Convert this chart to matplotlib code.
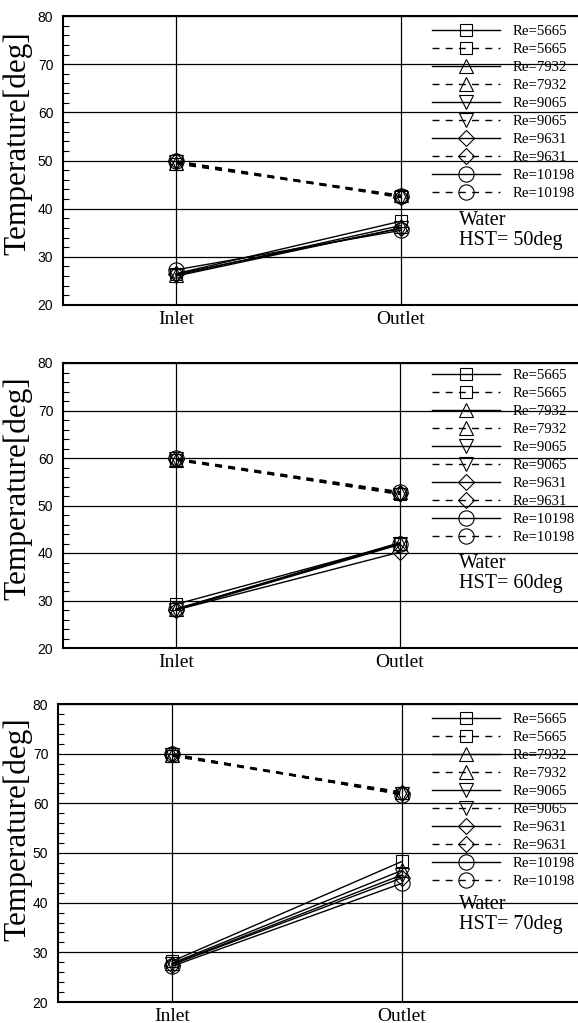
import matplotlib
matplotlib.use("Agg")
import matplotlib.pyplot as plt
from matplotlib.ticker import MultipleLocator

W, H = 578, 1023

re_vals = [5665, 7932, 9065, 9631, 10198]
positions = ["Inlet", "Outlet"]
hst_list = [50, 60, 70]

# solid lines (lower pair) and dashed lines (upper pair), inlet / outlet
solid_in_50 = [26.5, 26.2, 26.0, 26.4, 27.3]
solid_out_50 = [37.4, 36.5, 36.0, 35.9, 35.5]
dash_in_50 = [49.3, 49.5, 49.6, 49.8, 49.9]
dash_out_50 = [42.6, 42.8, 42.3, 42.5, 42.6]

solid_in_60 = [29.2, 28.2, 28.0, 28.0, 28.2]
solid_out_60 = [42.0, 42.2, 41.8, 40.2, 42.0]
dash_in_60 = [59.5, 59.6, 59.7, 59.8, 59.9]
dash_out_60 = [52.5, 52.8, 52.3, 52.6, 52.9]

solid_in_70 = [28.2, 27.8, 27.6, 27.5, 27.2]
solid_out_70 = [48.3, 46.5, 45.6, 45.0, 43.9]
dash_in_70 = [69.5, 69.7, 69.8, 69.9, 70.0]
dash_out_70 = [62.0, 62.3, 61.8, 62.1, 61.7]

data = [
    (solid_in_50, solid_out_50, dash_in_50, dash_out_50),
    (solid_in_60, solid_out_60, dash_in_60, dash_out_60),
    (solid_in_70, solid_out_70, dash_in_70, dash_out_70),
]

markers = ['s', '^', 'v', 'D', 'o']
msizes = [8, 9.5, 9.5, 8, 11]

# layout in pixels: left spine, top, bottom, inlet x, outlet x
layout = [
    (63, 16, 305, 176, 401),
    (63, 363, 648, 176, 400),
    (58, 704, 1002, 172, 402),
]
leg_top = [25, 369, 713]
leg_x = 432
water_top = [211, 554, 895]
ylab_y = [0.56, 0.56, 0.58]

serif = 'Liberation Serif'
sans = 'Liberation Sans'

fig = plt.figure(figsize=(W / 100, H / 100), dpi=100)

for k in range(3):
    left, top, bot, xin, xout = layout[k]
    right = 650
    ax = fig.add_axes([left / W, 1 - bot / H, (right - left) / W, (bot - top) / H])
    unit = xout - xin
    ax.set_xlim(-(xin - left) / unit, (right - xin) / unit)
    ax.set_ylim(20, 80)

    s_in, s_out, d_in, d_out = data[k]
    for i, re in enumerate(re_vals):
        ax.plot([0, 1], [s_in[i], s_out[i]], color='black', lw=1.0,
                marker=markers[i], ms=msizes[i], mfc='none', mec='black', mew=0.8,
                label='Re=%d' % re)
        ax.plot([0, 1], [d_in[i], d_out[i]], color='black', lw=1.0, dashes=(5, 4.5),
                marker=markers[i], ms=msizes[i], mfc='none', mec='black', mew=0.8,
                label='Re=%d' % re)

    ax.set_xticks([0, 1])
    ax.set_xticklabels(positions, family=serif, fontsize=14)
    ax.tick_params(axis='x', length=0, pad=4)
    ax.yaxis.set_major_locator(MultipleLocator(10))
    ax.yaxis.set_minor_locator(MultipleLocator(2))
    ax.tick_params(axis='y', which='major', length=0, pad=7, labelsize=10)
    ax.tick_params(axis='y', which='minor', direction='in', length=4, width=0.8)
    for lab in ax.get_yticklabels():
        lab.set_family(sans)
    ax.grid(True, which='major', color='black', lw=0.9)
    for sp in ['left', 'top', 'bottom']:
        ax.spines[sp].set_linewidth(1.5)
    ax.spines['right'].set_visible(False)

    ax.set_ylabel('Temperature[deg]', family=serif, fontsize=22.5)
    ax.yaxis.set_label_coords((32 - left) / (right - left), ylab_y[k])

    ax.legend(loc='upper left', bbox_to_anchor=(leg_x / W, 1 - leg_top[k] / H),
              bbox_transform=fig.transFigure, frameon=False, borderpad=0,
              borderaxespad=0, handlelength=4.6, handletextpad=0.8,
              labelspacing=0.31, prop={'family': serif, 'size': 10.7})

    fig.text(459 / W, 1 - water_top[k] / H, 'Water\nHST= %ddeg' % hst_list[k],
             family=serif, fontsize=14.5, va='top', ha='left', linespacing=1.1)

fig.savefig('out.png', dpi=100)
